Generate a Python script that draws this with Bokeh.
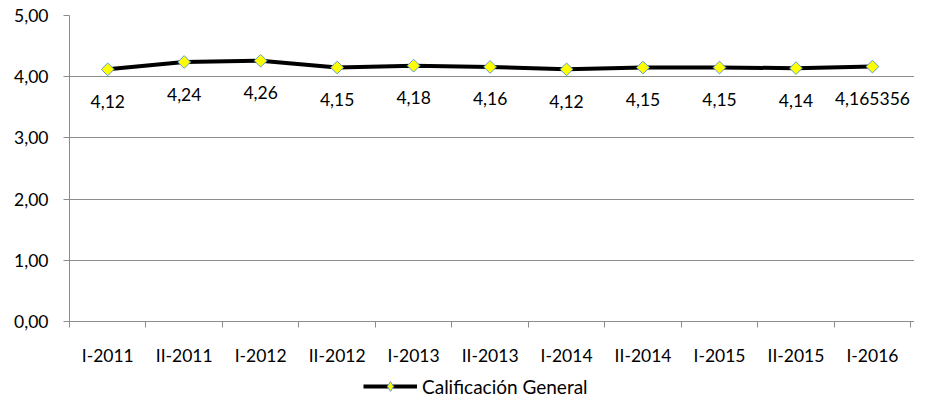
from bokeh.plotting import figure
from bokeh.layouts import column
from bokeh.models import (FixedTicker, CustomJSTickFormatter, Legend, LegendItem,
                          ColumnDataSource, Range1d)
from bokeh.core.properties import value
from bokeh.embed import file_html
from bokeh.resources import INLINE
import math

periods = ["I-2011", "II-2011", "I-2012", "II-2012", "I-2013", "II-2013",
           "I-2014", "II-2014", "I-2015", "II-2015", "I-2016"]
scores = [4.12, 4.24, 4.26, 4.15, 4.18, 4.16, 4.12, 4.15, 4.15, 4.14, 4.165356]
y_ticks = [0, 1, 2, 3, 4, 5]
series_name = "Calificación General"

FONT = "Lato"
FS = "17.5px"
GRID = "#8c8c8c"
MARK_FILL = "#ffff00"
MARK_LINE = "#5b9bd5"

xs = list(range(len(periods)))
labels = [str(v).replace(".", ",") for v in scores]
src = ColumnDataSource(dict(x=xs, y=scores, lab=labels))

p = figure(width=914, height=368, output_backend="svg", toolbar_location=None,
           x_range=Range1d(-0.5, len(periods) - 0.45), y_range=Range1d(0, 5),
           min_border_left=69, min_border_right=0, min_border_top=15,
           min_border_bottom=44)
p.outline_line_color = None
p.background_fill_color = "white"
p.border_fill_color = "white"

# y axis
p.yaxis.ticker = FixedTicker(ticks=y_ticks)
p.yaxis.formatter = CustomJSTickFormatter(code="return tick.toFixed(2).replace('.', ',');")
p.yaxis.axis_line_color = GRID
p.yaxis.major_tick_line_color = GRID
p.yaxis.major_tick_out = 6
p.yaxis.major_tick_in = 0
p.yaxis.minor_tick_line_color = None
p.yaxis.major_label_standoff = 15
p.yaxis.major_label_text_font = FONT
p.yaxis.major_label_text_font_size = FS
p.yaxis.major_label_text_color = "#000000"

# x axis
p.xaxis.ticker = FixedTicker(ticks=xs, minor_ticks=[i - 0.5 for i in range(len(periods) + 1)])
p.xaxis.formatter = CustomJSTickFormatter(args=dict(labels=periods),
                                          code="return labels[Math.round(tick)] || '';")
p.xaxis.axis_line_color = GRID
p.xaxis.major_tick_out = 0
p.xaxis.major_tick_in = 0
p.xaxis.major_tick_line_color = None
p.xaxis.minor_tick_line_color = GRID
p.xaxis.minor_tick_out = 6
p.xaxis.minor_tick_in = 0
p.xaxis.major_label_standoff = 17
p.xaxis.major_label_text_font = FONT
p.xaxis.major_label_text_font_size = FS
p.xaxis.major_label_text_color = "#000000"

p.xgrid.grid_line_color = None
p.ygrid.ticker = FixedTicker(ticks=y_ticks)
p.ygrid.grid_line_color = GRID

line_r = p.line("x", "y", source=src, line_color="black", line_width=4,
                line_join="round")
pts_r = p.scatter("x", "y", source=src, marker="square", angle=math.pi / 4,
                  size=9, fill_color=MARK_FILL, line_color=MARK_LINE, line_width=1)

p.text("x", "y", text="lab", source=src, y_offset=32, text_align="center",
       text_baseline="middle", text_font=value(FONT), text_font_size=FS,
       text_color="#000000")

# legend strip below the chart (its renderers hold the series but lie outside its view)
lg = figure(width=914, height=30, output_backend="svg", toolbar_location=None,
            x_range=Range1d(-1, 0), y_range=Range1d(-1, 0),
            x_axis_location=None, y_axis_location=None,
            min_border_left=0, min_border_right=0, min_border_top=0,
            min_border_bottom=0)
lg.outline_line_color = None
lg.grid.grid_line_color = None
lg.background_fill_color = "white"
lg.border_fill_color = "white"
lg_line = lg.line("x", "y", source=src, line_color="black", line_width=4)
lg_pts = lg.scatter("x", "y", source=src, marker="diamond", size=12,
                    fill_color=MARK_FILL, line_color=MARK_LINE, line_width=1)
legend = Legend(items=[LegendItem(label=series_name, renderers=[lg_line, lg_pts])],
                location=(294, 0), orientation="horizontal",
                glyph_width=54, glyph_height=24, label_standoff=5,
                padding=0, spacing=0, margin=0,
                border_line_color=None, background_fill_alpha=0,
                label_text_font=FONT, label_text_font_size="19px",
                label_text_color="#000000")
lg.add_layout(legend, "center")

layout = column(p, lg, spacing=0)
open("out.html", "w").write(file_html(layout, INLINE))
